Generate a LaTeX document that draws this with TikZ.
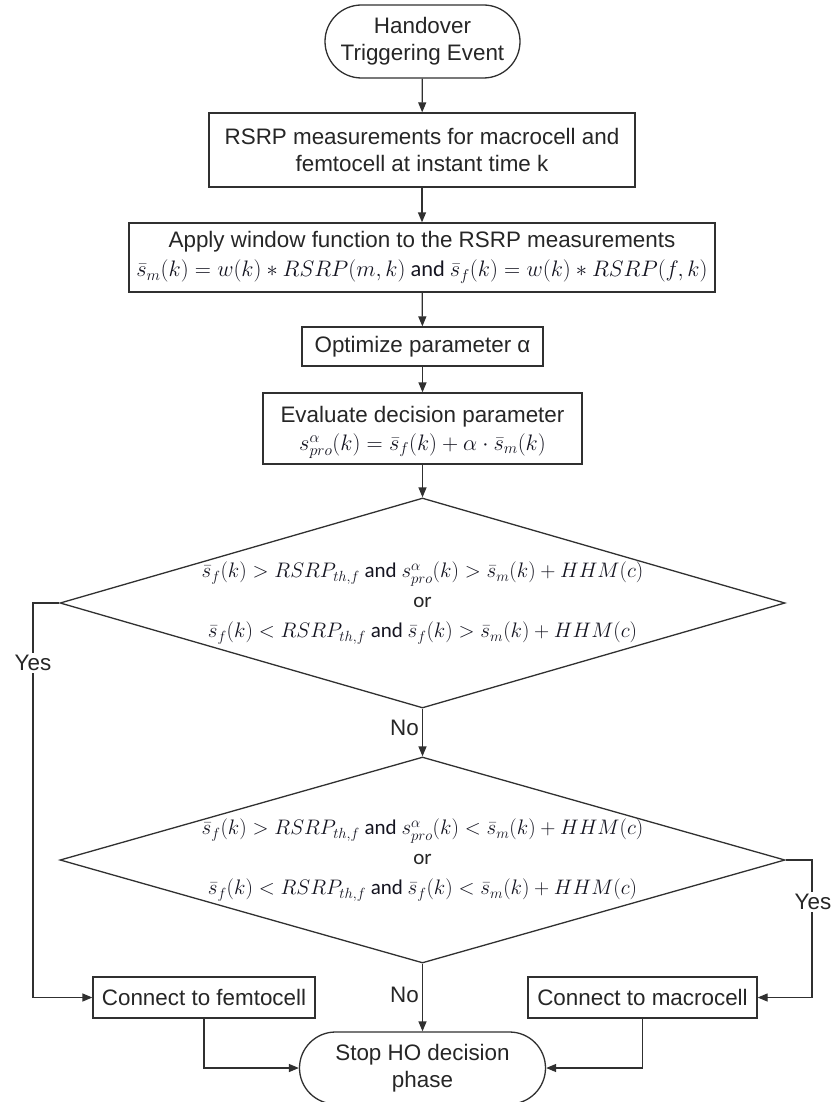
\RequirePackage{fix-cm}
\documentclass[tikz,border=0pt]{standalone}
\usepackage[no-math]{fontspec}
\setmainfont{Liberation Sans}
\newfontfamily\calib{Carlito}
\usetikzlibrary{shapes.geometric,shapes.misc,arrows.meta,calc}
\definecolor{ln}{HTML}{303030}
\definecolor{txt}{HTML}{262626}
\definecolor{mth}{HTML}{141420}
\newcommand{\mand}{{\calib\ and\ }}
\begin{document}
\begin{tikzpicture}[x=1pt,y=-1pt,
  every node/.style={font=\fontsize{22.4}{27}\selectfont, text=txt},
  box/.style={draw=ln, line width=1.3pt, inner sep=0pt, align=center},
  term/.style={draw=ln, line width=1.3pt, rounded rectangle, inner sep=0pt, align=center},
  dec/.style={draw=ln, line width=1.3pt, diamond, inner sep=0pt},
  dectext/.style={align=center, font=\fontsize{21}{30}\selectfont},
  arr/.style={draw=ln, line width=1.3pt, -{Triangle[length=10pt,width=8pt]}},
  lbl/.style={fill=white, inner sep=2pt},
  nolbl/.style={inner sep=3pt}
]
\useasboundingbox[fill=white] (0,0) rectangle (833,1102);

\node[term, minimum width=195pt, minimum height=73pt] (start) at (422.5,41.5) {Handover\\Triggering Event};
\node[box, minimum width=426pt, minimum height=74pt] (meas) at (422,150) {RSRP measurements for macrocell and\\femtocell at instant time k};
\node[box, minimum width=586pt, minimum height=69pt] (win) at (422,257.5) {Apply window function to the RSRP measurements\\[2pt]
  \color{mth}$\bar{s}_m(k)=w(k)\ast RSRP(m,k)$\mand$\bar{s}_f(k)=w(k)\ast RSRP(f,k)$};
\node[box, minimum width=241pt, minimum height=39pt] (opt) at (422.5,346.5) {Optimize parameter α};
\node[box, minimum width=319pt, minimum height=71pt] (eval) at (422.5,428.5) {};
\node[align=center] (evaltext) at ($(eval.center)+(0,4)$) {Evaluate decision parameter\\[1pt]
  \color{mth}$s^{\alpha}_{pro}(k)=\bar{s}_f(k)+\alpha\cdot\bar{s}_m(k)$};

\node[dec, minimum width=725pt, minimum height=210pt] (d1) at (422.5,603) {};
\node[dectext] (t1) at (d1.center) {\color{mth}$\bar{s}_f(k)>RSRP_{th,f}$\mand$s^{\alpha}_{pro}(k)>\bar{s}_m(k)+HHM(c)$\\
  {\calib or}\\
  \color{mth}$\bar{s}_f(k)<RSRP_{th,f}$\mand$\bar{s}_f(k)>\bar{s}_m(k)+HHM(c)$};

\node[dec, minimum width=725pt, minimum height=206pt] (d2) at (422.5,860) {};
\node[dectext] (t2) at (d2.center) {\color{mth}$\bar{s}_f(k)>RSRP_{th,f}$\mand$s^{\alpha}_{pro}(k)<\bar{s}_m(k)+HHM(c)$\\
  {\calib or}\\
  \color{mth}$\bar{s}_f(k)<RSRP_{th,f}$\mand$\bar{s}_f(k)<\bar{s}_m(k)+HHM(c)$};

\node[box, minimum width=222pt, minimum height=41pt] (femto) at (204,997.5) {Connect to femtocell};
\node[box, minimum width=229pt, minimum height=41pt] (macro) at (642.5,997.5) {Connect to macrocell};
\node[term, minimum width=246pt, minimum height=72pt] (stop) at (422.5,1068) {Stop HO decision\\phase};

\coordinate (lc) at (33,997.5);
\coordinate (rc) at (812,997.5);

\draw[arr] (start) -- (meas);
\draw[arr] (meas) -- (win);
\draw[arr] (win) -- (opt);
\draw[arr] (opt) -- (eval);
\draw[arr] (eval) -- (d1.north);
\draw[arr] (d1.south) -- node[left, nolbl, pos=0.4] {No} (d2.north);
\draw[arr] (d2.south) -- node[left, nolbl, pos=0.46] {No} (stop.north);
\draw[arr] (d1.west) -| (lc) -- (femto.west);
\draw[arr] (d2.east) -| (rc) -- (macro.east);
\node[lbl] (yes1) at (33,663) {Yes};
\node[lbl] (yes2) at (813,902) {Yes};
\draw[arr] (femto.south) |- (stop.west);
\draw[arr] (macro.south) |- (stop.east);
\end{tikzpicture}
\end{document}
